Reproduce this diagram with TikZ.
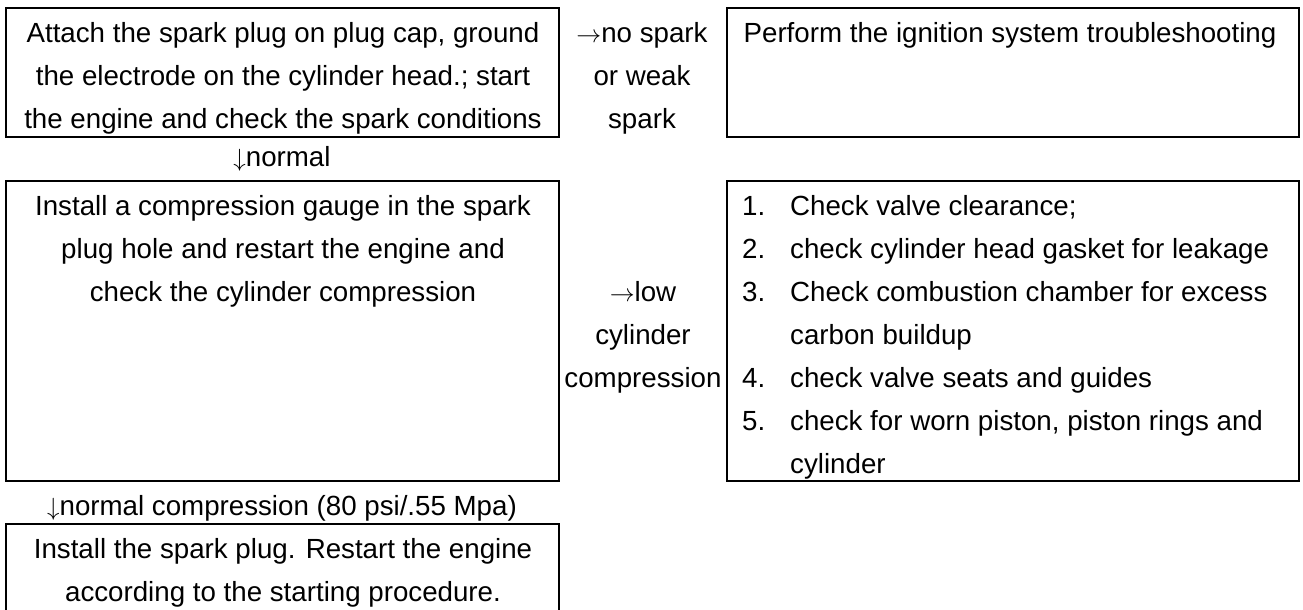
\documentclass[tikz,border=0pt]{standalone}
\usepackage{fontspec}
\setmainfont{Liberation Sans}
\newcommand{\fsz}{\fontsize{27.7}{43}\selectfont}
\newcommand{\tstrut}{\rule{0pt}{24pt}}
\newcommand{\rarr}{$\rightarrow$}
\newcommand{\darr}{$\downarrow$}
\tikzset{
  box/.style={draw=black, line width=2pt, inner sep=0pt, anchor=north west},
  txt/.style={inner sep=0pt, font=\fsz, text=black},
}
\begin{document}
\begin{tikzpicture}[x=1pt,y=-1pt]
\useasboundingbox (0,0) rectangle (1303,610);
\clip (0,0) rectangle (1303,610);
\fill[white] (0,0) rectangle (1303,610);
% boxes
\node[box, minimum width=553pt, minimum height=129pt] (b1) at (5,7) {};
\node[box, minimum width=572pt, minimum height=129pt] (b2) at (726,7) {};
\node[box, minimum width=553pt, minimum height=300pt] (b3) at (5,180) {};
\node[box, minimum width=572pt, minimum height=300pt] (b4) at (726,180) {};
\node[box, minimum width=553pt, minimum height=110pt] (b5) at (5,523) {};
% box texts
\node[txt, anchor=north] (t1) at (283,42-24) {\parbox[t]{560pt}{\centering\tstrut Attach the spark plug on plug cap, ground\\the electrode on the cylinder head.; start\\the engine and check the spark conditions}};
\node[txt, anchor=north] (t2) at (1010,42-24) {\parbox[t]{570pt}{\centering\tstrut Perform the ignition system troubleshooting}};
\node[txt, anchor=north] (t3) at (283,215-24) {\parbox[t]{560pt}{\centering\tstrut Install a compression gauge in the spark\\plug hole and restart the engine and\\check the cylinder compression}};
\node[txt, anchor=north west] (t4) at (742,215-24) {\parbox[t]{560pt}{\raggedright\tstrut
\makebox[48pt][l]{1.}Check valve clearance;\\
\makebox[48pt][l]{2.}check cylinder head gasket for leakage\\
\makebox[48pt][l]{3.}Check combustion chamber for excess\\
\hspace*{48pt}carbon buildup\\
\makebox[48pt][l]{4.}check valve seats and guides\\
\makebox[48pt][l]{5.}check for worn piston, piston rings and\\
\hspace*{48pt}cylinder}};
\node[txt, anchor=north] (t5) at (283,558-24) {\parbox[t]{560pt}{\centering\tstrut Install the spark plug. Restart the engine\\according to the starting procedure.}};
% connector labels
\node[txt, anchor=north] (l1) at (642,42-24) {\parbox[t]{170pt}{\centering\tstrut \rarr no spark\\or weak\\spark}};
\node[txt, anchor=base] (l2) at (282,166) {\darr normal};
\node[txt, anchor=north] (l3) at (643,301-24) {\parbox[t]{170pt}{\centering\tstrut \rarr low\\cylinder\\compression}};
\node[txt, anchor=base] (l4) at (282,515) {\darr normal compression (80 psi/.55 Mpa)};
\end{tikzpicture}
\end{document}
